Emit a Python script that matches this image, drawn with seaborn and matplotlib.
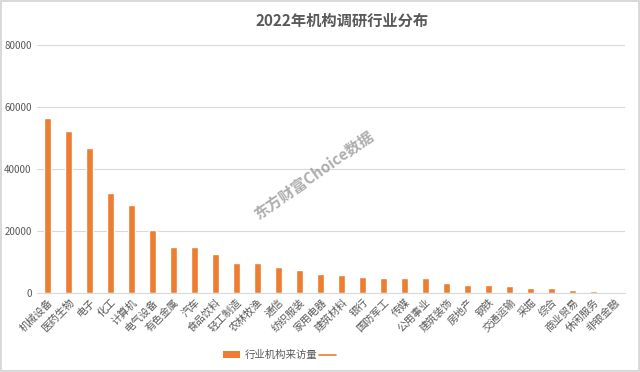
import matplotlib
matplotlib.use("Agg")
import matplotlib.pyplot as plt
import pandas as pd
import seaborn as sns
from matplotlib.lines import Line2D
from matplotlib.patches import Patch

industries = ["机械设备", "医药生物", "电子", "化工", "计算机", "电气设备", "有色金属", "汽车",
              "食品饮料", "轻工制造", "农林牧渔", "通信", "纺织服装", "家用电器", "建筑材料", "银行",
              "国防军工", "传媒", "公用事业", "建筑装饰", "房地产", "钢铁", "交通运输", "采掘",
              "综合", "商业贸易", "休闲服务", "非银金融"]
visits = [56500, 52300, 46700, 32400, 28400, 20300, 14800, 14800, 12600, 9800, 9600, 8500,
          7400, 6100, 5800, 5300, 5000, 4800, 4800, 3400, 2700, 2600, 2400, 1600, 1600, 1000,
          600, 400]
y_ticks = [0, 20000, 40000, 60000, 80000]

df = pd.DataFrame({"行业": industries, "来访量": visits})

sns.set_theme(style="white")
plt.rcParams["font.family"] = ["Noto Sans CJK SC", "DejaVu Sans"]

orange = "#ED7D31"
gray = "#595959"

fig = plt.figure(figsize=(6.4, 3.72), dpi=100)
fig.patch.set_edgecolor("#D9D9D9")
fig.patch.set_linewidth(1.5)
ax = fig.add_axes([0.058, 0.212, 0.919, 0.667])

sns.barplot(data=df, x="行业", y="来访量", color=orange, width=0.35, saturation=1, ax=ax)

ax.set_ylim(0, 80000)
ax.set_yticks(y_ticks)
ax.set_yticklabels([str(v) for v in y_ticks], fontsize=7, color=gray)
ax.yaxis.grid(True, color="#D9D9D9", linewidth=0.8)
ax.set_axisbelow(True)
ax.set_xlim(-0.5, len(industries) - 0.5)
ax.set_xticks(range(len(industries)))
ax.set_xticklabels(industries, rotation=45, ha="right", rotation_mode="anchor",
                   fontsize=7.5, color=gray)
ax.set_xticks([i - 0.5 for i in range(len(industries) + 1)], minor=True)
ax.tick_params(axis="x", which="major", length=0, pad=3)
ax.tick_params(axis="x", which="minor", length=3, color="#D9D9D9", width=0.8)
ax.tick_params(axis="y", length=0, pad=4)
ax.set_xlabel("")
ax.set_ylabel("")
for side in ["top", "right", "left"]:
    ax.spines[side].set_visible(False)
ax.spines["bottom"].set_color("#D9D9D9")
ax.spines["bottom"].set_linewidth(0.8)

fig.text(0.535, 0.945, "2022年机构调研行业分布", ha="center", va="center",
         fontsize=11, color=gray, fontweight="bold")

fig.text(0.49, 0.53, "东方财富Choice数据", ha="center", va="center", rotation=35,
         fontsize=11, color="#8C8C8C", alpha=0.7, fontweight="bold", style="italic")

handles = [Patch(facecolor=orange, edgecolor="none"),
           Line2D([0], [0], color=orange, linewidth=1.2)]
fig.legend(handles, ["行业机构来访量", ""], loc="center", bbox_to_anchor=(0.44, 0.045),
           ncol=2, frameon=False, fontsize=7.5, labelcolor=gray, handlelength=1.6,
           handleheight=0.6, columnspacing=0.2, handletextpad=0.4)

fig.savefig("out.png", dpi=100)
